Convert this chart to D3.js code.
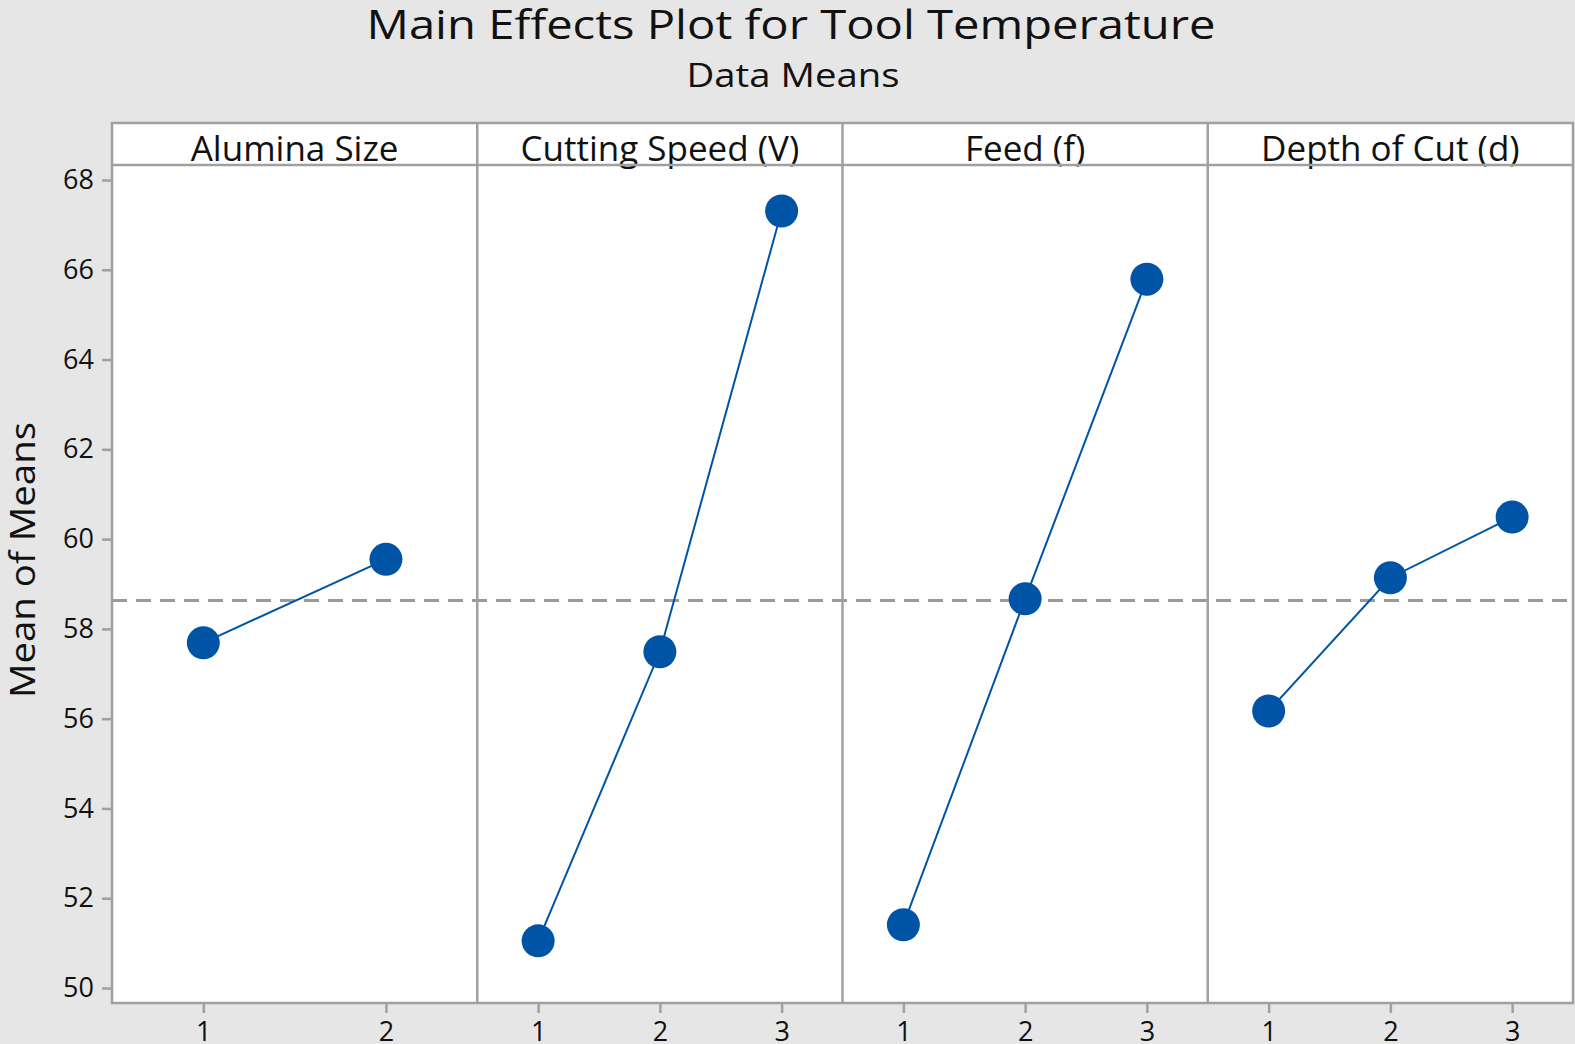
<!DOCTYPE html>
<html>
<head>
    <meta charset="utf-8">
    <style>
        body {
            margin: 0;
            background-color: #e6e6e6;
        }
        svg {
            display: block;
            font-family: 'Open Sans', 'DejaVu Sans', sans-serif;
        }
    </style>
</head>
<body>
    <svg width="1575" height="1044"></svg>

<script src="https://d3js.org/d3.v7.min.js"></script>
<script>
    // factor names and their levels
    let factors = ["Alumina Size", "Cutting Speed (V)", "Feed (f)", "Depth of Cut (d)"];
    let levels = [["1", "2"], ["1", "2", "3"], ["1", "2", "3"], ["1", "2", "3"]];

    // means
    let aluminaMeans = [57.69, 59.55];
    let speedMeans = [51.05, 57.49, 67.31];
    let feedMeans = [51.41, 58.67, 65.79];
    let depthMeans = [56.17, 59.14, 60.49];
    let seriesMeans = [aluminaMeans, speedMeans, feedMeans, depthMeans];

    let grandMean = 58.63;
    let yTicks = [50, 52, 54, 56, 58, 60, 62, 64, 66, 68];

    let plotLeft = 112, plotRight = 1573, plotTop = 123, stripBottom = 165, plotBottom = 1003;
    let gridColor = "#a0a0a0";
    let blue = "#0054a6";

    let svg = d3.select("svg");

    // titles
    svg.append("text")
        .attr("x", 791)
        .attr("y", 39)
        .attr("text-anchor", "middle")
        .attr("font-size", 41)
        .attr("textLength", 849)
        .attr("lengthAdjust", "spacingAndGlyphs")
        .attr("fill", "#111")
        .text("Main Effects Plot for Tool Temperature");

    svg.append("text")
        .attr("x", 793)
        .attr("y", 87)
        .attr("text-anchor", "middle")
        .attr("font-size", 33)
        .attr("textLength", 213)
        .attr("lengthAdjust", "spacingAndGlyphs")
        .attr("fill", "#111")
        .text("Data Means");

    svg.append("text")
        .attr("transform", "translate(35,560) rotate(-90)")
        .attr("text-anchor", "middle")
        .attr("font-size", 35)
        .attr("textLength", 276)
        .attr("lengthAdjust", "spacingAndGlyphs")
        .attr("fill", "#111")
        .text("Mean of Means");

    let y = d3.scaleLinear()
        .domain([49.666, 68.334])
        .range([plotBottom, stripBottom]);

    let panelX = d3.scaleBand()
        .domain(factors)
        .range([plotLeft, plotRight]);

    // white plotting area
    svg.append("rect")
        .attr("x", plotLeft)
        .attr("y", plotTop)
        .attr("width", plotRight - plotLeft)
        .attr("height", plotBottom - plotTop)
        .attr("fill", "white");

    // y axis
    let yAxis = svg.append("g")
        .attr("transform", `translate(${plotLeft},0)`)
        .call(d3.axisLeft(y).tickValues(yTicks).tickSize(10).tickPadding(8));
    yAxis.select(".domain").remove();
    yAxis.selectAll("line").attr("stroke", gridColor).attr("stroke-width", 2.5);
    yAxis.selectAll("text")
        .attr("font-size", 27)
        .attr("fill", "#111")
        .attr("font-family", "'Open Sans', sans-serif");

    // grand mean reference line
    svg.append("line")
        .attr("x1", plotLeft)
        .attr("x2", plotRight)
        .attr("y1", y(grandMean))
        .attr("y2", y(grandMean))
        .attr("stroke", "#9a9a9a")
        .attr("stroke-width", 3)
        .attr("stroke-dasharray", "15,9");

    factors.forEach(function (f, i) {
        let x0 = panelX(f);
        let x1 = x0 + panelX.bandwidth();
        let x = d3.scalePoint()
            .domain(levels[i])
            .range([x0, x1])
            .padding(0.5);

        let g = svg.append("g").attr("class", "panel");

        // header label
        g.append("text")
            .attr("x", (x0 + x1) / 2)
            .attr("y", 161)
            .attr("text-anchor", "middle")
            .attr("font-size", 35)
            .attr("fill", "#111")
            .text(f);

        // x axis
        let xAxis = svg.append("g")
            .attr("transform", `translate(0,${plotBottom})`)
            .call(d3.axisBottom(x).tickSize(10).tickPadding(9));
        xAxis.select(".domain").remove();
        xAxis.selectAll("line").attr("stroke", gridColor).attr("stroke-width", 2.5);
        xAxis.selectAll("text")
            .attr("font-size", 27)
            .attr("fill", "#111")
            .attr("font-family", "'Open Sans', sans-serif");

        let pts = seriesMeans[i].map((v, j) => ({ level: levels[i][j], value: v }));

        g.append("path")
            .datum(pts)
            .attr("fill", "none")
            .attr("stroke", blue)
            .attr("stroke-width", 2)
            .attr("d", d3.line().x(d => x(d.level)).y(d => y(d.value)));

        g.selectAll("circle")
            .data(pts)
            .join("circle")
            .attr("cx", d => x(d.level))
            .attr("cy", d => y(d.value))
            .attr("r", 16.5)
            .attr("fill", blue);
    });

    // panel borders and strip
    let frame = svg.append("g")
        .attr("fill", "none")
        .attr("stroke", gridColor)
        .attr("stroke-width", 2.5);

    frame.append("rect")
        .attr("x", plotLeft)
        .attr("y", plotTop)
        .attr("width", plotRight - plotLeft)
        .attr("height", plotBottom - plotTop);

    frame.append("line")
        .attr("x1", plotLeft)
        .attr("x2", plotRight)
        .attr("y1", stripBottom)
        .attr("y2", stripBottom);

    frame.selectAll(".divider")
        .data(factors.slice(1))
        .join("line")
        .attr("class", "divider")
        .attr("x1", d => panelX(d))
        .attr("x2", d => panelX(d))
        .attr("y1", plotTop)
        .attr("y2", plotBottom);
</script>
</body>
</html>
